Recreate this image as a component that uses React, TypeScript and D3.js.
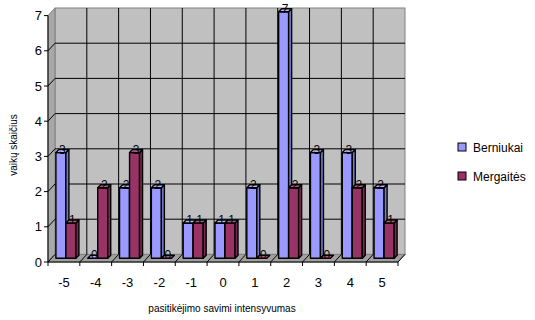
import React from "react";
import * as d3 from "d3";

const categories = ["-5", "-4", "-3", "-2", "-1", "0", "1", "2", "3", "4", "5"];
const seriesNames = ["Berniukai", "Mergaitės"];
const berniukai = [3, 0, 2, 2, 1, 1, 2, 7, 3, 3, 2];
const mergaites = [1, 2, 3, 0, 1, 1, 0, 2, 0, 2, 1];
const yTicks = [0, 1, 2, 3, 4, 5, 6, 7];

const colors = {
  Berniukai: { face: "#9999FF", side: "#7A7ACC", top: "#B8B8FF" },
  "Mergaitės": { face: "#993366", side: "#7A2952", top: "#B35C85" },
};

const FONT = "'Liberation Sans', Arial, sans-serif";

export default function App() {
  const W = 535, H = 320;
  const fx0 = 48, fx1 = 398;
  const y = d3.scaleLinear().domain([0, 7]).range([262, 15.6]);
  const DX = 7, DY = -7.6; // wall depth
  const x = d3.scaleBand<string>().domain(categories).range([fx0, fx1]).padding(0);
  const bw = x.bandwidth();
  const xs = d3.scaleBand<string>().domain(seriesNames).range([0, bw]).paddingInner(0).paddingOuter(0.59);
  const bd = 0.5;
  const bdx = DX * bd, bdy = DY * bd;
  const ddx = 3, ddy = -3;
  const values: Record<string, number[]> = { Berniukai: berniukai, "Mergaitės": mergaites };

  const pts = (a: number[][]) => a.map((p) => p.join(",")).join(" ");

  const y0 = y(0);
  const bars: React.ReactNode[] = [];
  const labels: React.ReactNode[] = [];
  categories.forEach((c, i) => {
    seriesNames.forEach((s) => {
      const v = values[s][i];
      const bx = (x(c) as number) + (xs(s) as number) + bdx - 1.5;
      const w = xs.bandwidth();
      const yb = y0 + bdy;
      const yt = y(v) + bdy;
      const col = (colors as any)[s];
      bars.push(
        <g key={c + s} stroke="#000" strokeWidth={1.4} strokeLinejoin="round">
          {v > 0 && <rect x={bx} y={yt} width={w} height={yb - yt} fill={col.face} />}
          {v > 0 && (
            <polygon
              points={pts([[bx + w, yt], [bx + w + ddx, yt + ddy], [bx + w + ddx, yb + ddy], [bx + w, yb]])}
              fill={col.side}
            />
          )}
          <polygon
            points={pts([[bx, yt], [bx + ddx, yt + ddy], [bx + w + ddx, yt + ddy], [bx + w, yt]])}
            fill={col.top}
          />
        </g>
      );
      labels.push(
        <text key={"l" + c + s} x={bx + w / 2 + 1.5} y={yt + 1} textAnchor="middle" fontSize={12} fill="#000" fontFamily={FONT}>
          {v}
        </text>
      );
    });
  });

  const backY = (v: number) => y(v) + DY;

  return (
    <svg width={W} height={H} style={{ position: "absolute", left: 0, top: 0 }} fontFamily={FONT}>
      <rect width={W} height={H} fill="#fff" />
      <rect x={fx0 + DX} y={backY(7)} width={fx1 - fx0} height={y0 - y(7)} fill="#C0C0C0" stroke="#808080" />
      <polygon points={pts([[fx0, y(7)], [fx0 + DX, backY(7)], [fx0 + DX, backY(0)], [fx0, y0]])} fill="#A8A8A8" stroke="#808080" />
      <polygon points={pts([[fx0, y0], [fx0 + DX, backY(0)], [fx1 + DX, backY(0)], [fx1, y0]])} fill="#A0A0A0" stroke="#808080" />
      {yTicks.filter((t) => t > 0 && t < 7).map((t) => (
        <g key={"g" + t}>
          <line x1={fx0 + DX} x2={fx1 + DX} y1={backY(t)} y2={backY(t)} stroke="#000" />
          <line x1={fx0} x2={fx0 + DX} y1={y(t)} y2={backY(t)} stroke="#000" />
        </g>
      ))}
      {categories.slice(1).map((c) => (
        <line key={"v" + c} x1={(x(c) as number) + DX} x2={(x(c) as number) + DX} y1={backY(7)} y2={backY(0)} stroke="#000" />
      ))}
      {categories.map((c) => (
        <line key={"f" + c} x1={x(c) as number} y1={y0} x2={(x(c) as number) + DX} y2={backY(0)} stroke="#000" />
      ))}
      <line x1={fx1} y1={y0} x2={fx1 + DX} y2={backY(0)} stroke="#000" />
      {bars}
      {labels}
      <line x1={fx0} x2={fx0} y1={y(7)} y2={y0} stroke="#000" />
      <line x1={fx0} x2={fx1} y1={y0} y2={y0} stroke="#000" />
      {yTicks.map((t) => (
        <g key={"yt" + t}>
          <line x1={fx0 - 4} x2={fx0} y1={y(t)} y2={y(t)} stroke="#000" />
          <text x={42} y={y(t)} dy="0.35em" textAnchor="end" fontSize={13}>{t}</text>
        </g>
      ))}
      {[...categories, ""].map((c, i) => {
        const px = fx0 + i * bw;
        return <line key={"xt" + i} x1={px} x2={px} y1={y0} y2={y0 + 4} stroke="#000" />;
      })}
      {categories.map((c) => (
        <text key={"xl" + c} x={(x(c) as number) + bw / 2} y={287} textAnchor="middle" fontSize={13}>{c}</text>
      ))}
      <text transform="translate(17,145) rotate(-90)" textAnchor="middle" fontSize={10}>vaikų skaičius</text>
      <text x={222} y={312} textAnchor="middle" fontSize={10}>pasitikėjimo savimi intensyvumas</text>
      {seriesNames.map((s, i) => (
        <g key={"lg" + s} transform={`translate(458,${143 + i * 29})`}>
          <rect x={0} y={0} width={8} height={8} fill={(colors as any)[s].face} stroke="#000" />
          <text x={15} y={9} fontSize={12}>{s}</text>
        </g>
      ))}
    </svg>
  );
}
